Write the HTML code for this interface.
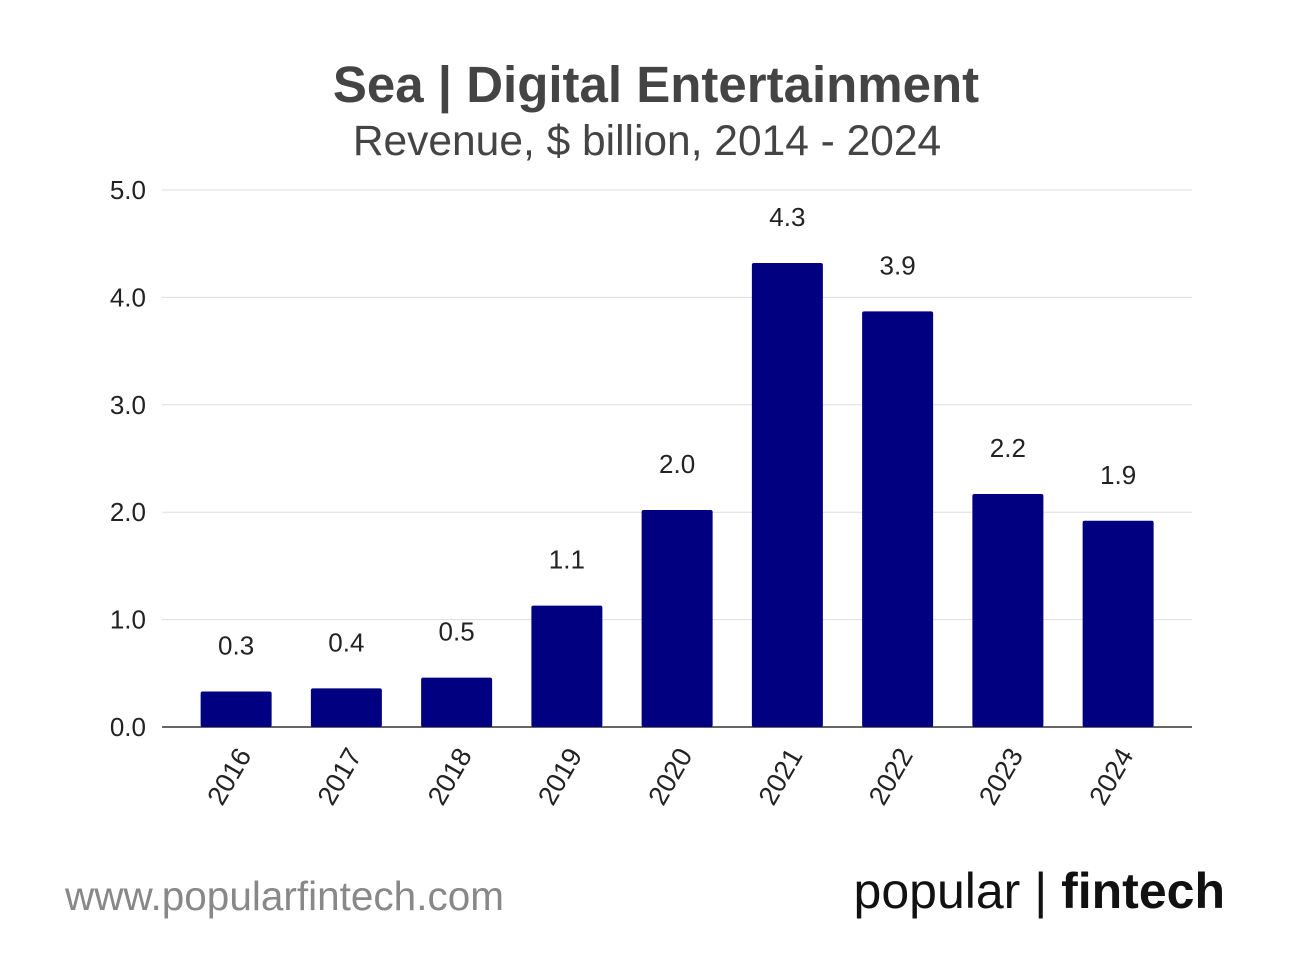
<!DOCTYPE html>
<html><head><meta charset="utf-8"><style>
body{margin:0;background:#fff;width:1292px;height:960px;overflow:hidden;font-family:"Liberation Sans",sans-serif}
</style></head><body>
<svg width="1292" height="960" xmlns="http://www.w3.org/2000/svg">
<text x="656" y="102" text-anchor="middle" font-size="51" font-weight="bold" fill="#444">Sea | Digital Entertainment</text>
<text x="647" y="155" text-anchor="middle" font-size="42.5" fill="#444">Revenue, $ billion, 2014 - 2024</text>
<g id="grid"></g><g id="bars"></g>
<text x="65" y="910" font-size="40.5" fill="#888">www.popularfintech.com</text>
<text x="1225" y="908" text-anchor="end" font-size="50" fill="#111">popular | <tspan font-weight="bold">fintech</tspan></text>
</svg>
<script>
const categories=["2016","2017","2018","2019","2020","2021","2022","2023","2024"];
const values=[0.33,0.36,0.46,1.13,2.02,4.32,3.87,2.17,1.92];
const labels=["0.3","0.4","0.5","1.1","2.0","4.3","3.9","2.2","1.9"];
const ticks=[0,1,2,3,4,5];
const tickLabels=["0.0","1.0","2.0","3.0","4.0","5.0"];
const NS="http://www.w3.org/2000/svg";
const y0=727,yTop=190,xL=181,band=110.25,bw=71;
const y=v=>y0-(v/5)*(y0-yTop);
const x=i=>xL+band*i+band/2;
function mk(t,a,p){const e=document.createElementNS(NS,t);for(const k in a)e.setAttribute(k,a[k]);p.appendChild(e);return e;}
const g=document.getElementById('grid'),b=document.getElementById('bars');
ticks.forEach((t,i)=>{
 const l=mk('line',{x1:162,x2:1192,y1:y(t),y2:y(t),stroke:t===0?'#333':'#ddd','stroke-width':t===0?1.5:1},g);
 
 
 const tx=mk('text',{x:146,y:y(t)+9,'text-anchor':'end','font-size':26,fill:'#222'},g);
 tx.textContent=tickLabels[i];
 
 
});
categories.forEach((c,i)=>{
 const r=mk('rect',{x:x(i)-bw/2,y:y(values[i]),width:bw,height:y0-y(values[i]),fill:'#000080',rx:2},b);
 
 
 const v=mk('text',{x:x(i),y:y(values[i])-37,'text-anchor':'middle','font-size':26,fill:'#222'},b);
 v.textContent=labels[i];
 
 
 const xt=mk('text',{x:0,y:0,'text-anchor':'end','font-size':27,fill:'#222',transform:`translate(${x(i)+16},755) rotate(-60)`},b);
 xt.textContent=c;
 
 
});
</script>
</body></html>
